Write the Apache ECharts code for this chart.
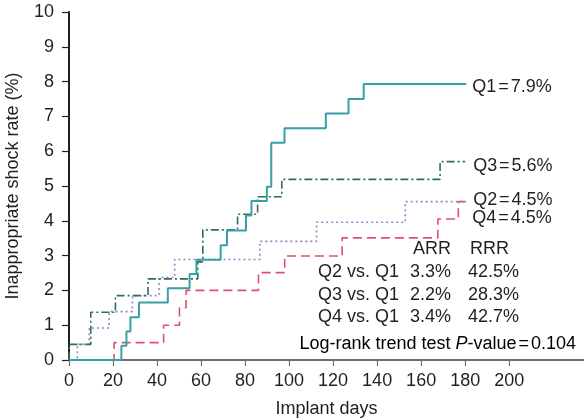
<!DOCTYPE html>
<html>
<head>
<meta charset="utf-8">
<script src="https://cdn.jsdelivr.net/npm/echarts@6/dist/echarts.min.js"></script>
<style>html,body{margin:0;padding:0;background:#fff;}#c{width:584px;height:420px;}</style>
</head>
<body>
<div id="c"></div>
<script>
// ---- data ----
const xTicks = [0, 20, 40, 60, 80, 100, 120, 140, 160, 180, 200];
const q1Days = [0, 23.8, 26.1, 27.9, 31.8, 44.9, 54.8, 57.9, 68.9, 71.8, 80.4, 82.9, 89.9, 91.9, 97.9, 116.7, 127, 133.9, 180.5];
const q1Vals = [0, 0.41, 0.82, 1.23, 1.65, 2.06, 2.47, 2.88, 3.30, 3.72, 4.15, 4.57, 4.98, 6.24, 6.66, 7.08, 7.50, 7.93, 7.93];
const q2Days = [0, 3.8, 9.2, 18.2, 28.8, 40.9, 48, 86.7, 112.5, 152.8, 180];
const q2Vals = [0, 0.45, 0.92, 1.39, 1.85, 2.37, 2.89, 3.41, 3.96, 4.55, 4.55];
const q3Days = [0, 0, 9.9, 21.1, 35.9, 58.5, 60.8, 76.6, 85.7, 96.7, 168.6, 180];
const q3Vals = [0, 0.45, 1.37, 1.85, 2.33, 2.82, 3.74, 4.19, 4.69, 5.19, 5.70, 5.70];
const q4Days = [0, 20.5, 43, 50.2, 53.2, 86.1, 98, 124.1, 167.6, 176.9, 180.5];
const q4Vals = [0, 0.50, 1.00, 1.50, 2.00, 2.51, 2.99, 3.51, 4.05, 4.55, 4.55];
const endNames = ['Q1', 'Q2', 'Q3', 'Q4'];
const endPcts = ['7.9%', '4.5%', '5.6%', '4.5%'];
const tableHeader = ['ARR', 'RRR'];
const tableRows = [
  ['Q2 vs. Q1', '3.3%', '42.5%'],
  ['Q3 vs. Q1', '2.2%', '28.3%'],
  ['Q4 vs. Q1', '3.4%', '42.7%']
];
const trendText = 'Log-rank trend test ';
const pValue = '0.104';

const FONT = 'Liberation Sans, Arial, Helvetica, sans-serif';
const FS = 18;
const TXT = '#231f20';

function pairs(d, v) { return d.map((x, i) => [x, v[i]]); }
const rich = {
  a: {fontSize: FS, fontFamily: FONT, color: TXT},
  s: {fontSize: 7, fontFamily: FONT, color: TXT},
  i: {fontSize: FS, fontFamily: FONT, fontStyle: 'italic', color: TXT}
};
function eqText(name, pct) { return '{a|' + name + '}{s| }{a|=}{s| }{a|' + pct + '}'; }

const chart = echarts.init(document.getElementById('c'), null, {renderer: 'canvas'});

function mkSeries(idx, days, vals, color, width, type, off) {
  return {
    name: endNames[idx], type: 'line', step: 'end', symbol: 'none', silent: true,
    data: pairs(days, vals),
    lineStyle: {color: color, width: width, type: type},
    endLabel: {show: true, formatter: eqText(endNames[idx], endPcts[idx]), rich: rich, distance: 6, offset: off},
    z: 3
  };
}

const rowY = [273, 296, 318];
const graphics = [];
graphics.push({type: 'text', left: 413, top: 250 - FS/2 - 1, style: {text: tableHeader[0], font: FS + 'px ' + FONT, fill: TXT}});
graphics.push({type: 'text', left: 470, top: 250 - FS/2 - 1, style: {text: tableHeader[1], font: FS + 'px ' + FONT, fill: TXT}});
tableRows.forEach((r, i) => {
  graphics.push({type: 'text', left: 318, top: rowY[i] - FS/2 - 1, style: {text: r[0], font: FS + 'px ' + FONT, fill: TXT}});
  graphics.push({type: 'text', left: 410, top: rowY[i] - FS/2 - 1, style: {text: r[1], font: FS + 'px ' + FONT, fill: TXT}});
  graphics.push({type: 'text', left: 468, top: rowY[i] - FS/2 - 1, style: {text: r[2], font: FS + 'px ' + FONT, fill: TXT}});
});
graphics.push({type: 'text', right: 8, top: 345 - FS/2 - 1, style: {
  text: '{a|' + trendText + '}{i|P}{a|-value}{s| }{a|=}{s| }{a|' + pValue + '}',
  rich: rich
}});

chart.setOption({
  animation: false,
  backgroundColor: '#fff',
  grid: {left: 69, right: 0, top: 12, bottom: 60, containLabel: false, outerBoundsMode: 'none'},
  xAxis: {
    type: 'value', min: 0, max: 234,
    name: 'Implant days', nameLocation: 'middle', nameGap: 40,
    nameTextStyle: {fontSize: FS, fontFamily: FONT, color: TXT},
    axisLine: {show: true, lineStyle: {color: '#6d6e71', width: 2}},
    axisTick: {show: true, length: 6, customValues: xTicks, lineStyle: {color: '#6d6e71', width: 1.2}},
    axisLabel: {customValues: xTicks, fontSize: FS, fontFamily: FONT, color: TXT, margin: 12},
    splitLine: {show: false}
  },
  yAxis: {
    type: 'value', min: 0, max: 10, interval: 1,
    name: 'Inappropriate shock rate (%)', nameLocation: 'middle', nameGap: 47,
    nameTextStyle: {fontSize: FS, fontFamily: FONT, color: TXT},
    axisLine: {show: true, lineStyle: {color: '#231f20', width: 2}},
    axisTick: {show: true, length: 7, lineStyle: {color: '#231f20', width: 1.2}},
    axisLabel: {fontSize: FS, fontFamily: FONT, color: TXT, margin: 15},
    splitLine: {show: false}
  },
  series: [
    mkSeries(3, q4Days, q4Vals, '#e0506e', 1.6, [9, 5], [0, 16]),
    mkSeries(1, q2Days, q2Vals, '#8f86c6', 1.6, [2, 3], [2, -2]),
    mkSeries(2, q3Days, q3Vals, '#2d6e5e', 1.6, [8, 3, 2, 3], [2, 4]),
    mkSeries(0, q1Days, q1Vals, '#35a0a6', 2, 'solid', [0, 3])
  ],
  graphic: graphics
});
</script>
</body>
</html>
